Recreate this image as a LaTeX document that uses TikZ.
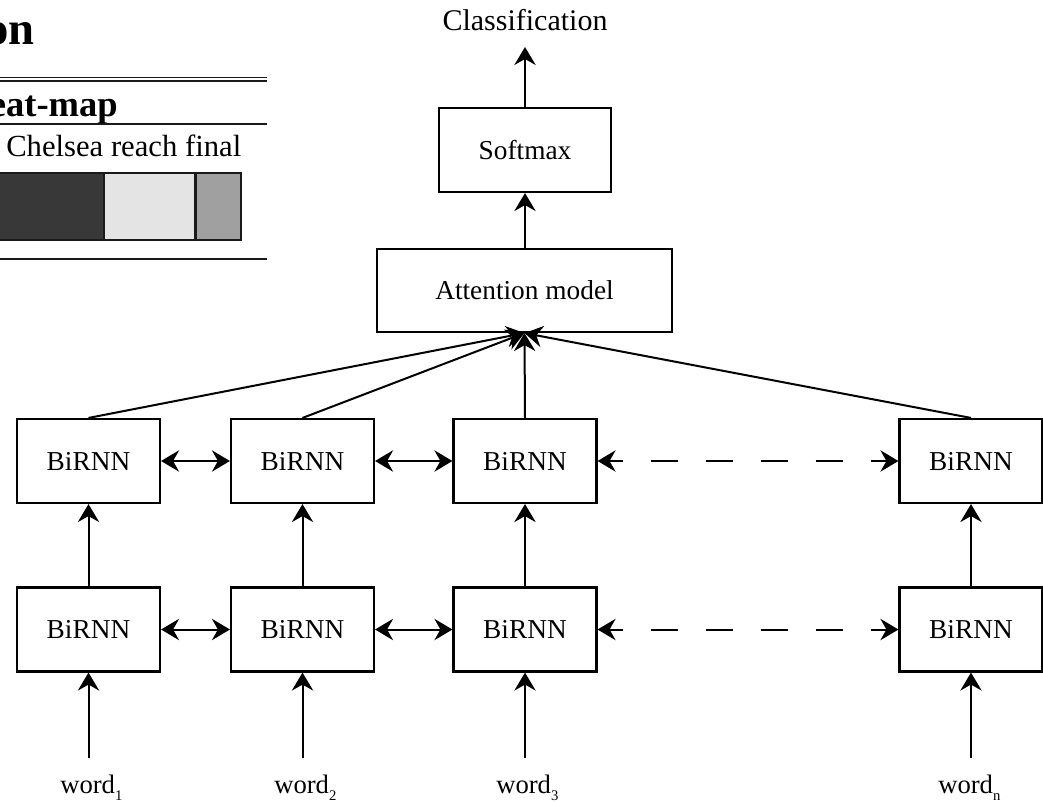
\documentclass[tikz,border=0pt]{standalone}
\usepackage{fontspec}
\setmainfont{Liberation Serif}
\usetikzlibrary{arrows.meta}
\definecolor{hmdark}{HTML}{383838}
\definecolor{hmlight}{HTML}{E4E4E4}
\definecolor{hmgray}{HTML}{A0A0A0}
\definecolor{rulecol}{HTML}{1A1A1A}
\newcommand{\wsub}[1]{\raisebox{-5.5pt}{\fontsize{11pt}{11pt}\selectfont #1}}
\begin{document}
\begin{tikzpicture}[x=0.75pt,y=-0.75pt,
  tip/.tip={Stealth[length=13.5pt,width=16pt,inset=4.5pt]},
  arr/.style={line width=1.5pt,-tip},
  arrb/.style={line width=1.5pt,tip-tip},
  arrd/.style={line width=1.5pt,tip-tip,dash pattern=on 20.6pt off 20.6pt,dash phase=9.75pt},
  cell/.style={draw,line width=1.6pt,minimum width=107.25pt,minimum height=63pt,inner sep=0pt,font=\fontsize{20.5pt}{24pt}\selectfont},
  lbl/.style={inner sep=0pt,anchor=base west,font=\fontsize{20pt}{24pt}\selectfont},
  hm/.style={draw=rulecol,line width=1.6pt},
  rl/.style={draw=rulecol,line width=1.5pt}
]
\useasboundingbox (0,0) rectangle (1043,803);

% ---- cropped heat-map panel (top left) ----
\node[inner sep=0pt,anchor=base east,font=\fontsize{35pt}{40pt}\selectfont\bfseries] (ttl) at (35,45) {on};
\draw[rl,line width=1pt] (0,77.5) -- (267,77.5);
\draw[rl,line width=1pt] (0,81) -- (267,81);
\node[inner sep=0pt,anchor=base east,font=\fontsize{27.4pt}{32pt}\selectfont\bfseries] (hmt) at (118,116.5) {eat-map};
\draw[rl] (0,123.5) -- (267,123.5);
\node[inner sep=0pt,anchor=base west,font=\fontsize{23pt}{27pt}\selectfont] (sent) at (6,156.7) {Chelsea reach final};
\filldraw[hm,fill=hmdark] (-5,173) rectangle (104,240);
\filldraw[hm,fill=hmlight] (104,173) rectangle (195.5,240);
\filldraw[hm,fill=hmgray] (195.5,173) rectangle (241,240);
\draw[rl] (0,259) -- (267,259);

% ---- main network ----
\node[inner sep=0pt,anchor=base,font=\fontsize{22.5pt}{27pt}\selectfont] (cls) at (525,30.5) {Classification};
\coordinate (clstip) at (525,47);
\node[cell,minimum width=129pt] (soft) at (525,150) {Softmax};
\node[cell,minimum width=221.25pt,minimum height=62.25pt] (att) at (524.5,290.5) {Attention model};

\foreach \c/\x in {1/88.5,2/302.5,3/525,4/971}{
  \node[cell] (r1c\c) at (\x,461) {BiRNN};
  \node[cell] (r2c\c) at (\x,629.5) {BiRNN};
  \coordinate (in\c) at (\x,758);
}
\node[lbl] (w1) at (60,793) {word\wsub{1}};
\node[lbl] (w2) at (274,793) {word\wsub{2}};
\node[lbl] (w3) at (496,793) {word\wsub{3}};
\node[lbl] (w4) at (938,793) {word\wsub{n}};

\draw[arr] (soft.north) -- (clstip);
\draw[arr] (att.north -| soft.south) -- (soft.south);
\foreach \c in {1,2,3,4}{
  \draw[arr] (in\c) -- (r2c\c.south);
  \draw[arr] (r2c\c.north) -- (r1c\c.south);
  \draw[arr] (r1c\c.north) -- (att.south);
}
\foreach \r in {1,2}{
  \draw[arrb] (r\r c1.east) -- (r\r c2.west);
  \draw[arrb] (r\r c2.east) -- (r\r c3.west);
  \draw[arrd] (r\r c3.east) -- (r\r c4.west);
}
\end{tikzpicture}
\end{document}
